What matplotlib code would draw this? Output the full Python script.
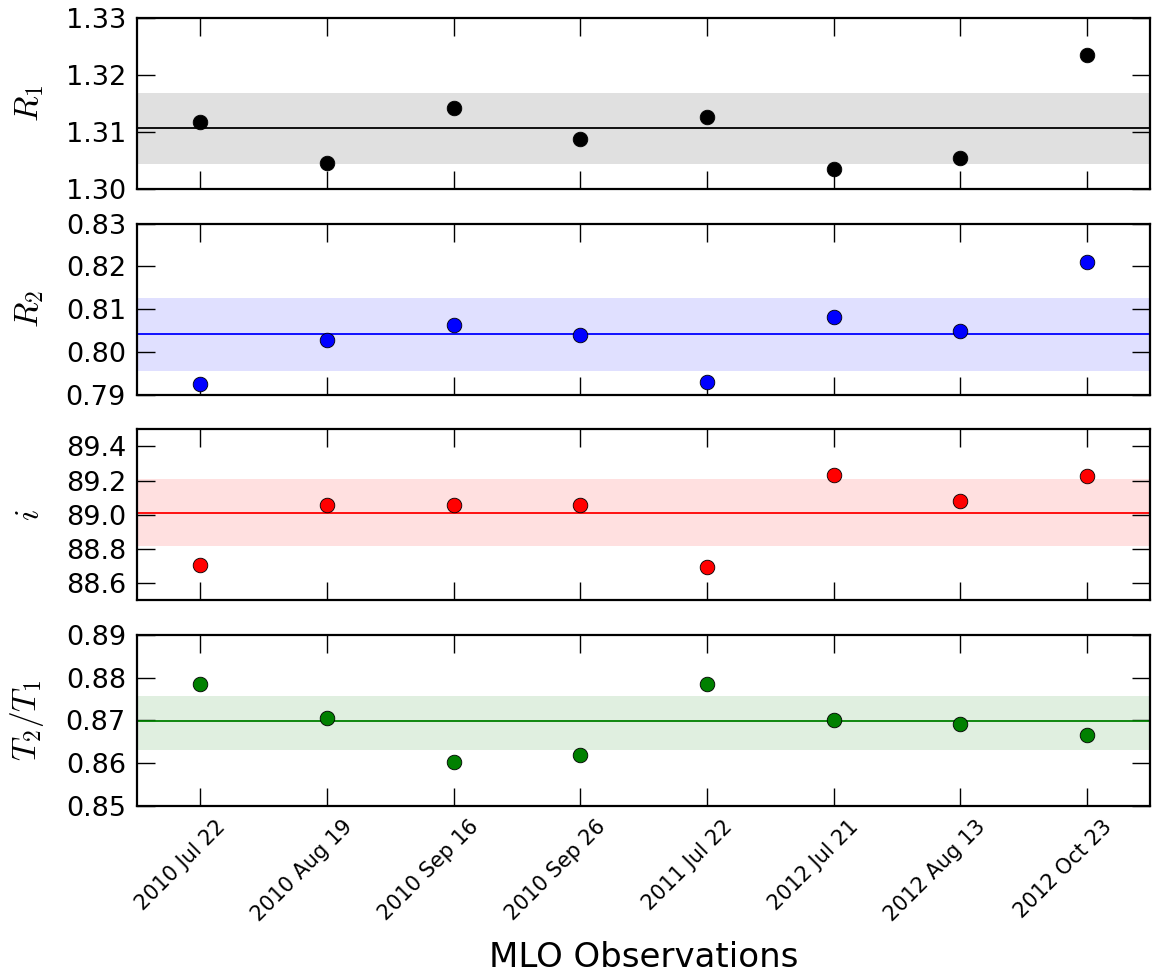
import numpy as np
import matplotlib
matplotlib.use("Agg")
import matplotlib.pyplot as plt
from matplotlib.transforms import ScaledTranslation

plt.rcParams['mathtext.fontset'] = 'cm'
plt.rcParams['font.family'] = 'DejaVu Sans'

dates = ["2010 Jul 22", "2010 Aug 19", "2010 Sep 16", "2010 Sep 26",
         "2011 Jul 22", "2012 Jul 21", "2012 Aug 13", "2012 Oct 23"]

r1 = [1.3118, 1.3046, 1.3142, 1.3088, 1.3126, 1.3035, 1.3054, 1.3235]
r2 = [0.7926, 0.8029, 0.8064, 0.8040, 0.7930, 0.8082, 0.8050, 0.8211]
inc = [88.705, 89.06, 89.06, 89.06, 88.695, 89.235, 89.08, 89.225]
t_ratio = [0.8786, 0.8705, 0.8603, 0.8619, 0.8786, 0.8701, 0.8692, 0.8665]

# mean and band (low, high) for each parameter
r1_mean, r1_band = 1.3107, (1.3044, 1.3168)
r2_mean, r2_band = 0.8043, (0.7956, 0.8127)
inc_mean, inc_band = 89.01, (88.82, 89.21)
t_mean, t_band = 0.8698, (0.8630, 0.8758)

panels = [
    (r1, r1_mean, r1_band, 'k', r'$R_1$', (1.30, 1.33), [1.30, 1.31, 1.32, 1.33], "%.2f"),
    (r2, r2_mean, r2_band, 'b', r'$R_2$', (0.79, 0.83), [0.79, 0.80, 0.81, 0.82, 0.83], "%.2f"),
    (inc, inc_mean, inc_band, 'r', r'$i$', (88.5, 89.5), [88.6, 88.8, 89.0, 89.2, 89.4], "%.1f"),
    (t_ratio, t_mean, t_band, 'g', r'$T_2/T_1$', (0.85, 0.89), [0.85, 0.86, 0.87, 0.88, 0.89], "%.2f"),
]

fig, axes = plt.subplots(4, 1, sharex=True, figsize=(11.52, 9.77), dpi=100)
fig.subplots_adjust(left=0.119, right=0.9985, top=0.9816, bottom=0.175, hspace=0.2)

x = np.arange(len(dates))

for ax, (vals, mean, band, col, lab, ylim, yt, fmt) in zip(axes, panels):
    ax.axhspan(band[0], band[1], color=col, alpha=0.12, lw=0, zorder=1)
    ax.axhline(mean, color=col, lw=1.3, zorder=2)
    ax.plot(x, vals, 'o', color=col, ms=10.5, mec='k', mew=0.6, zorder=3)
    ax.set_ylim(*ylim)
    ax.set_yticks(yt)
    ax.set_yticklabels([fmt % v for v in yt])
    ax.set_xlim(-0.5, len(dates) - 0.5)
    ax.set_ylabel(lab, fontsize=24)
    ax.yaxis.set_label_coords(-0.09, 0.5)
    ax.tick_params(direction='in', length=13, width=1, top=True, right=True,
                   labelsize=19.5, pad=8)
    for sp in ax.spines.values():
        sp.set_linewidth(1.6)

axes[-1].tick_params(axis='x', pad=6)
axes[-1].set_xticks(x)
axes[-1].set_xticklabels(dates, rotation=45, fontsize=15,
                         ha='right', va='center', rotation_mode='anchor')
# shift the rotated date labels so their ends sit right of each tick
offset = ScaledTranslation(0.22, -0.09, fig.dpi_scale_trans)
for lbl in axes[-1].get_xticklabels():
    lbl.set_transform(lbl.get_transform() + offset)
axes[-1].set_xlabel("MLO Observations", fontsize=24.5, labelpad=12)

fig.savefig("out.png", dpi=100)
